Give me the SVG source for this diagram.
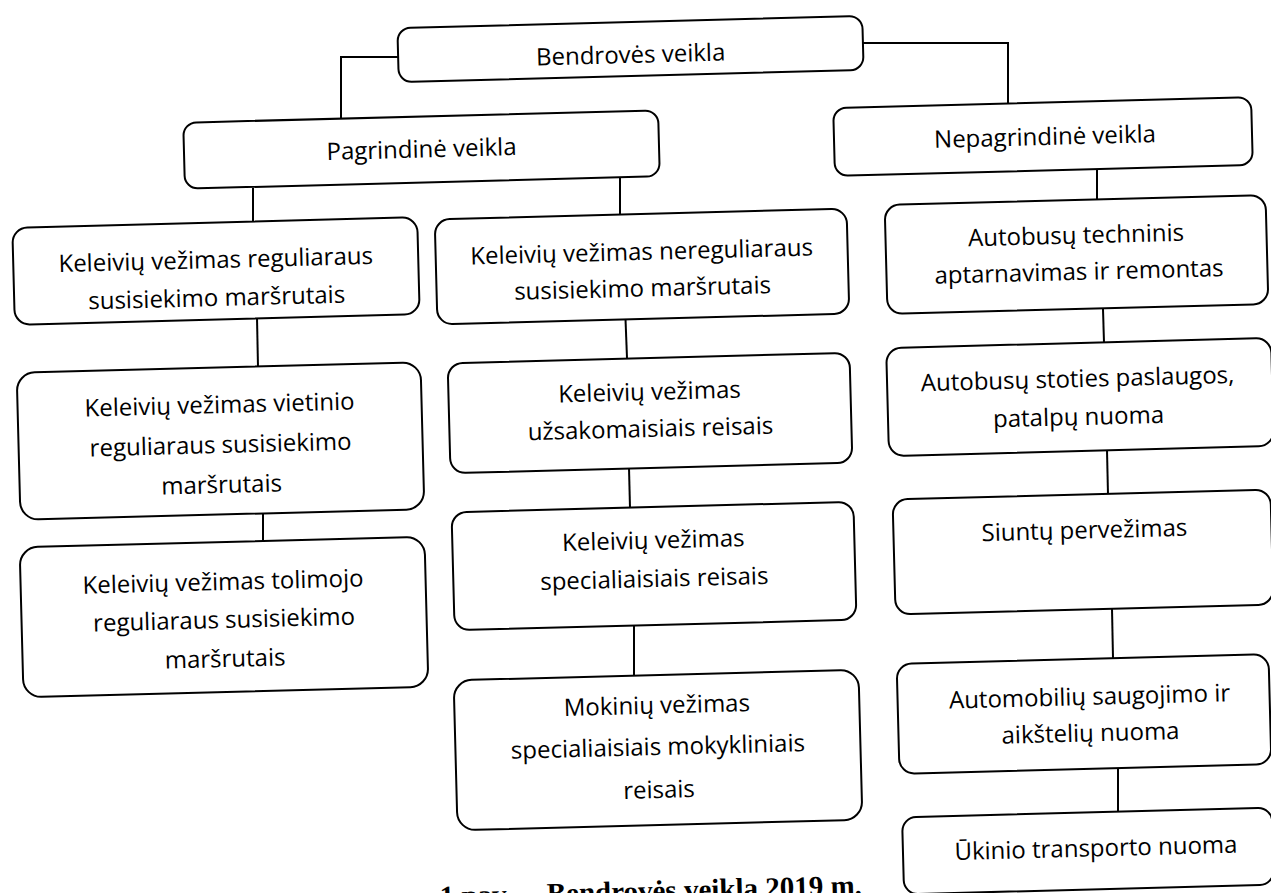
<svg xmlns="http://www.w3.org/2000/svg" width="1271" height="893" viewBox="0 0 1271 893">
<style>
.box{fill:#fff;stroke:#000;stroke-width:2}
.t{font-family:"Open Sans","Liberation Sans",sans-serif;font-size:24px;fill:#000;text-anchor:middle}
.c{fill:none;stroke:#000;stroke-width:2}
.cap{font-family:"Liberation Serif",serif;font-weight:bold;font-size:29px;fill:#000}
</style>
<rect width="1271" height="893" fill="#fff"/>
<g id="connectors">
<polyline class="c" points="398,57 341,57 341,120"/>
<polyline class="c" points="863,43 1008,43 1008,103"/>
<line class="c" x1="253" y1="188" x2="253" y2="222"/>
<line class="c" x1="620" y1="178" x2="620" y2="215"/>
<line class="c" x1="1097" y1="170" x2="1097" y2="200"/>
<line class="c" x1="257" y1="318" x2="258" y2="367"/>
<line class="c" x1="263" y1="493" x2="263" y2="542"/>
<line class="c" x1="625" y1="306" x2="627" y2="358"/>
<line class="c" x1="629" y1="468" x2="630" y2="508"/>
<line class="c" x1="634" y1="626" x2="634" y2="676"/>
<line class="c" x1="1103" y1="309" x2="1104" y2="343"/>
<line class="c" x1="1107" y1="450" x2="1108" y2="495"/>
<line class="c" x1="1112" y1="609" x2="1113" y2="658"/>
<line class="c" x1="1118" y1="767" x2="1118" y2="812"/>
</g>
<g id="n-bendroves" transform="translate(630.5,49) rotate(-1.5)">
<rect class="box" x="-232.5" y="-27" width="465" height="54" rx="13"/>
<text class="t" x="0" y="14" font-size="25">Bendrovės veikla</text>
</g>
<g id="n-pagrindine" transform="translate(421.5,149.5) rotate(-1.5)">
<rect class="box" x="-237.5" y="-33" width="475" height="66" rx="13"/>
<text class="t" x="0" y="8">Pagrindinė veikla</text>
</g>
<g id="n-nepagrindine" transform="translate(1043,136.5) rotate(-1.5)">
<rect class="box" x="-209" y="-34" width="418" height="68" rx="13"/>
<text class="t" x="2" y="8.5">Nepagrindinė veikla</text>
</g>
<g id="n-reguliaraus" transform="translate(216,271) rotate(-1.5)">
<rect class="box" x="-202.5" y="-48.5" width="405" height="97" rx="15"/>
<text class="t" x="0" y="-3">Keleivių vežimas reguliaraus</text>
<text class="t" x="0" y="35">susisiekimo maršrutais</text>
</g>
<g id="n-vietinio" transform="translate(220.5,441) rotate(-1.5)">
<rect class="box" x="-202" y="-73.5" width="404" height="147" rx="18"/>
<text class="t" x="0" y="-28">Keleivių vežimas vietinio</text>
<text class="t" x="0" y="12">reguliaraus susisiekimo</text>
<text class="t" x="0" y="52">maršrutais</text>
</g>
<g id="n-tolimojo" transform="translate(224,617) rotate(-1.5)">
<rect class="box" x="-202.5" y="-75" width="405" height="150" rx="18"/>
<text class="t" x="0" y="-27">Keleivių vežimas tolimojo</text>
<text class="t" x="0" y="11">reguliaraus susisiekimo</text>
<text class="t" x="0" y="50">maršrutais</text>
</g>
<g id="n-nereguliaraus" transform="translate(642,266.5) rotate(-1.5)">
<rect class="box" x="-206" y="-52.5" width="412" height="105" rx="15"/>
<text class="t" x="0" y="-6.5">Keleivių vežimas nereguliaraus</text>
<text class="t" x="0" y="30">susisiekimo maršrutais</text>
</g>
<g id="n-uzsakomaisiais" transform="translate(650,413) rotate(-1.5)">
<rect class="box" x="-201" y="-55" width="402" height="110" rx="15"/>
<text class="t" x="0" y="-13">Keleivių vežimas</text>
<text class="t" x="0" y="24">užsakomaisiais reisais</text>
</g>
<g id="n-specialiaisiais" transform="translate(654,566) rotate(-1.5)">
<rect class="box" x="-201" y="-59" width="402" height="118" rx="15"/>
<text class="t" x="0" y="-17.5">Keleivių vežimas</text>
<text class="t" x="0" y="21">specialiaisiais reisais</text>
</g>
<g id="n-mokiniu" transform="translate(658,750) rotate(-1.5)">
<rect class="box" x="-202.5" y="-75" width="405" height="150" rx="18"/>
<text class="t" x="0" y="-36.5">Mokinių vežimas</text>
<text class="t" x="0" y="5">specialiaisiais mokykliniais</text>
<text class="t" x="0" y="48">reisais</text>
</g>
<g id="n-techninis" transform="translate(1076.5,254.5) rotate(-1.5)">
<rect class="box" x="-190.5" y="-54.5" width="381" height="109" rx="15"/>
<text class="t" x="0" y="-11">Autobusų techninis</text>
<text class="t" x="2" y="25.5">aptarnavimas ir remontas</text>
</g>
<g id="n-stoties" transform="translate(1080,397) rotate(-1.5)">
<rect class="box" x="-192.5" y="-54" width="385" height="108" rx="15"/>
<text class="t" x="-2" y="-10">Autobusų stoties paslaugos,</text>
<text class="t" x="-2" y="28">patalpų nuoma</text>
</g>
<g id="n-siuntu" transform="translate(1083,552) rotate(-1.5)">
<rect class="box" x="-189" y="-57.5" width="378" height="115" rx="15"/>
<text class="t" x="2" y="-13.5">Siuntų pervežimas</text>
</g>
<g id="n-automobiliu" transform="translate(1084,714) rotate(-1.5)">
<rect class="box" x="-186" y="-55" width="372" height="110" rx="15"/>
<text class="t" x="6" y="-9">Automobilių saugojimo ir</text>
<text class="t" x="6" y="27.5">aikštelių nuoma</text>
</g>
<g id="n-ukinio" transform="translate(1088,851) rotate(-1.5)">
<rect class="box" x="-185" y="-38.5" width="370" height="77" rx="14"/>
<text class="t" x="8" y="5.5">Ūkinio transporto nuoma</text>
</g>
<g id="caption" transform="rotate(-1.5,440,906)">
<text class="cap" x="440" y="906">1 pav. <tspan x="547">Bendrovės veikla 2019 m.</tspan></text>
</g>
</svg>
